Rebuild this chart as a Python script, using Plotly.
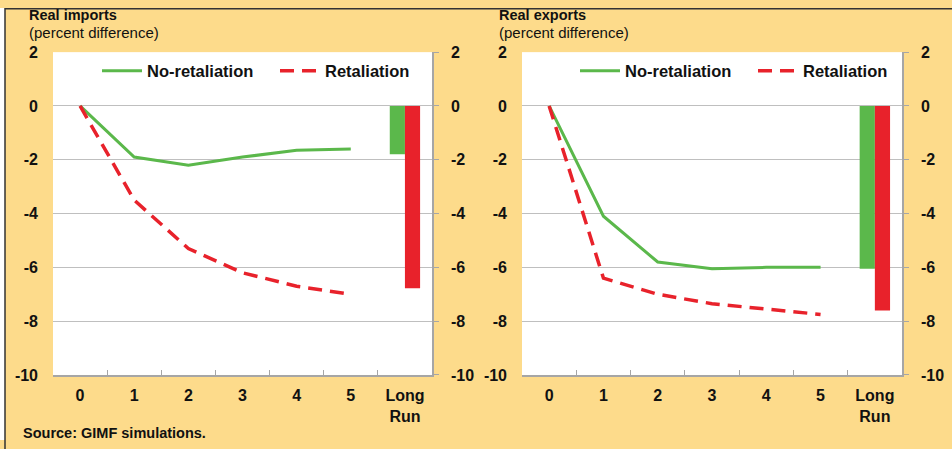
import plotly.graph_objects as go

categories = ["0", "1", "2", "3", "4", "5"]
long_run_label = "Long<br>Run"

imports_noret = [0, -1.9, -2.2, -1.9, -1.65, -1.6]
imports_ret = [0, -3.5, -5.3, -6.2, -6.7, -7.0]
imports_lr_noret = -1.8
imports_lr_ret = -6.78

exports_noret = [0, -4.1, -5.8, -6.05, -6.0, -6.0]
exports_ret = [0, -6.4, -7.0, -7.35, -7.55, -7.75]
exports_lr_noret = -6.05
exports_lr_ret = -7.6

y_ticks = [2, 0, -2, -4, -6, -8, -10]
grid_ticks = [0, -2, -4, -6, -8]

titles = [("Real imports", "(percent difference)"), ("Real exports", "(percent difference)")]
source_text = "Source: GIMF simulations."

GREEN = "#5BB84B"
RED = "#E8222B"
ORANGE = "#FDDB8B"
FONT = "Arial, Liberation Sans, sans-serif"
W, H = 952, 449

# the captured page maps figure rows y -> 0.9656*y + 7.7; place items by their on-screen row
SY, OY = 0.9656, 7.7


def py(row):
    return 1 - ((row - OY) / SY) / H


fig = go.Figure()

panels = [
    (imports_noret, imports_ret, imports_lr_noret, imports_lr_ret),
    (exports_noret, exports_ret, exports_lr_noret, exports_lr_ret),
]
x_domains = [(53 / W, 432 / W), (522 / W, 902 / W)]
y_domain = (py(376), py(52))
all_cats = categories + [long_run_label]
axis_names = [("y", "y2", "y3"), ("y4", "y5", "y6")]

for i, (noret, ret, lr_n, lr_r) in enumerate(panels):
    xa = "x" if i == 0 else "x2"
    yl, yr, yg = axis_names[i]
    leg = "legend" if i == 0 else "legend2"
    # empty helper traces so the overlaid right-hand and grid axes get drawn
    for ax in (yg, yr):
        fig.add_trace(go.Scatter(x=[None], y=[None], mode="lines", showlegend=False,
                                 hoverinfo="skip", xaxis=xa, yaxis=ax))
    fig.add_trace(go.Scatter(x=categories, y=noret, mode="lines", name="No-retaliation",
                             line=dict(color=GREEN, width=3), xaxis=xa, yaxis=yl, legend=leg))
    fig.add_trace(go.Scatter(x=categories, y=ret, mode="lines", name="Retaliation",
                             line=dict(color=RED, width=3.5, dash="14px,8px"), xaxis=xa, yaxis=yl, legend=leg))
    fig.add_trace(go.Bar(x=[long_run_label], y=[lr_n], marker=dict(color=GREEN, line=dict(width=0)),
                         width=0.28, offset=-0.28, showlegend=False, xaxis=xa, yaxis=yl))
    fig.add_trace(go.Bar(x=[long_run_label], y=[lr_r], marker=dict(color=RED, line=dict(width=0)),
                         width=0.28, offset=0.0, showlegend=False, xaxis=xa, yaxis=yl))

tickfont = dict(family=FONT, size=16, color="#111111", weight="bold")
xcommon = dict(type="category", categoryorder="array", categoryarray=all_cats,
               range=[-0.5, 6.5], tickson="boundaries", ticks="inside", ticklen=5,
               tickcolor="#A6A6A6", showline=True, linecolor="#A6A6A6", linewidth=1.5,
               showgrid=False, tickfont=tickfont, fixedrange=True, zeroline=False,
               ticklabelstandoff=5)

layout = dict(
    width=W, height=H, margin=dict(l=0, r=0, t=0, b=0),
    paper_bgcolor=ORANGE, plot_bgcolor="white",
    font=dict(family=FONT, color="#111111"),
    barmode="overlay", showlegend=True,
)

for i in range(2):
    n = "" if i == 0 else "2"
    xd = x_domains[i]
    yl, yr, yg = axis_names[i]
    layout["xaxis" + n] = dict(xcommon, domain=list(xd), anchor=yl)
    ycommon = dict(range=[-10, 2], tickvals=y_ticks, ticktext=[str(v) for v in y_ticks],
                   tickfont=tickfont, showgrid=False, zeroline=False, fixedrange=True)
    layout["yaxis" + yl[1:]] = dict(ycommon, domain=list(y_domain), anchor="x" + n,
                                   side="left", ticks="", ticklabelstandoff=14)
    layout["yaxis" + yr[1:]] = dict(ycommon, overlaying=yl, anchor="x" + n, side="right",
                                   showline=True, linecolor="#A6A6A6", linewidth=1.5,
                                   ticks="outside", ticklen=5, tickcolor="#A6A6A6",
                                   ticklabelstandoff=9)
    layout["yaxis" + yg[1:]] = dict(range=[-10, 2], tickvals=grid_ticks, overlaying=yl,
                                   anchor="x" + n, showticklabels=False, showgrid=True,
                                   gridcolor="#BFBFBF", gridwidth=1.2, zeroline=False,
                                   fixedrange=True)

legfont = dict(family=FONT, size=16.5, color="#111111", weight="bold")
layout["legend"] = dict(orientation="h", x=97 / W, y=py(71), xanchor="left", yanchor="middle",
                        bgcolor="rgba(0,0,0,0)", font=legfont, itemwidth=40, entrywidth=123)
layout["legend2"] = dict(orientation="h", x=575 / W, y=py(71), xanchor="left", yanchor="middle",
                         bgcolor="rgba(0,0,0,0)", font=legfont, itemwidth=40, entrywidth=123)

fig.update_layout(**layout)

# white strip left of the frame and the dark frame line
fig.add_shape(type="rect", xref="paper", yref="paper", x0=0, x1=5 / W, y0=0, y1=1,
              fillcolor="white", line=dict(width=0), layer="below")
fig.add_shape(type="rect", xref="paper", yref="paper", x0=5 / W, x1=1.02, y0=-0.05, y1=1 - 0.8 / H,
              fillcolor="rgba(0,0,0,0)", line=dict(color="#333333", width=1.5), layer="below")

title_x = [27 / W, 497 / W]
for i, (t1, t2) in enumerate(titles):
    fig.add_annotation(text="<b>" + t1 + "</b>", xref="paper", yref="paper", x=title_x[i], y=py(15),
                       xanchor="left", yanchor="middle", showarrow=False,
                       font=dict(family=FONT, size=14.5, color="#111111"))
    fig.add_annotation(text=t2, xref="paper", yref="paper", x=title_x[i], y=py(32),
                       xanchor="left", yanchor="middle", showarrow=False,
                       font=dict(family=FONT, size=15, color="#111111"))

fig.add_annotation(text="<b>" + source_text + "</b>", xref="paper", yref="paper", x=21 / W, y=py(434),
                   xanchor="left", yanchor="middle", showarrow=False,
                   font=dict(family=FONT, size=14.5, color="#111111"))

css_fix = ("var s=document.createElement('style');"
           "s.innerHTML='html,body{margin:0!important;padding:0!important;overflow:hidden;"
           "width:952px;height:449px;}';"
           "document.head.appendChild(s);"
           "var d=document.querySelector('.plotly-graph-div');"
           "d.style.position='absolute';d.style.left='0px';d.style.top='0px';")
fig.write_html("out.html", config={"responsive": False, "displayModeBar": False},
               post_script=css_fix)
